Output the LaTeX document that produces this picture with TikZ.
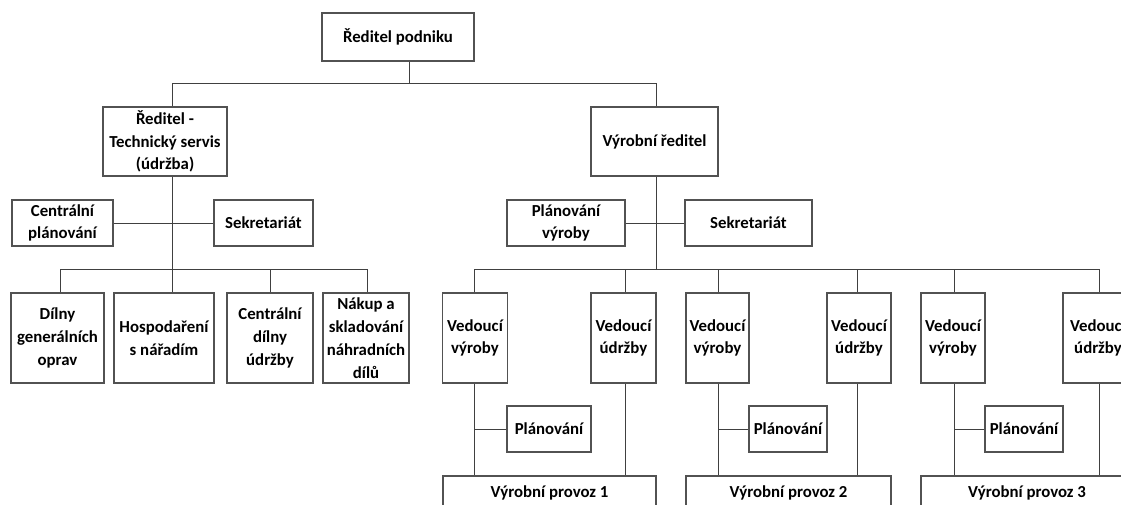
\documentclass[tikz,border=0pt]{standalone}
\usepackage{fontspec}
\setmainfont{Carlito}
\begin{document}
\begin{tikzpicture}[x=1pt,y=-1pt,
  box/.style={draw=black!68, line width=1.1pt, fill=white, inner sep=0pt,
    align=center, font=\bfseries\fontsize{16.8}{22.8}\selectfont},
  link/.style={draw=black!75, line width=1pt}]
\clip (0,0) rectangle (1121,504);
\fill[white] (0,0) rectangle (1121,504);

% --- top management
\node[box, minimum width=152pt, minimum height=48pt] (top) at (398,37) {Ředitel podniku};
\node[box, minimum width=124pt, minimum height=69pt] (ts) at (165,141.5) {Ředitel -\\Technický servis\\(údržba)};
\node[box, minimum width=127pt, minimum height=69pt] (vr) at (654.5,141.5) {Výrobní ředitel};

% --- staff units
\node[box, minimum width=101pt, minimum height=46pt] (cp) at (62.5,223) {Centrální\\plánování};
\node[box, minimum width=99pt, minimum height=46pt] (sk1) at (263.5,223) {Sekretariát};
\node[box, minimum width=118pt, minimum height=46pt] (pv) at (566,223) {Plánování\\výroby};
\node[box, minimum width=127pt, minimum height=46pt] (sk2) at (748.5,223) {Sekretariát};

% --- technical service departments
\node[box, minimum width=93pt, minimum height=90pt] (dgo) at (57.5,338) {Dílny\\generálních\\oprav};
\node[box, minimum width=100pt, minimum height=90pt] (hn) at (164,338) {Hospodaření\\s nářadím};
\node[box, minimum width=86pt, minimum height=90pt] (cdu) at (270,338) {Centrální\\dílny\\údržby};
\node[box, minimum width=86pt, minimum height=90pt] (nsd) at (366,338) {Nákup a\\skladování\\náhradních\\dílů};

% --- production units
\node[box, minimum width=65pt, minimum height=90pt] (vv1) at (475,338) {Vedoucí\\výroby};
\node[box, minimum width=65pt, minimum height=90pt] (vu1) at (623.5,338) {Vedoucí\\údržby};
\node[box, minimum width=84pt, minimum height=46pt] (pl1) at (549,429) {Plánování};
\node[box, minimum width=213pt, minimum height=34pt] (pr1) at (549.5,493) {Výrobní provoz 1};

\node[box, minimum width=63pt, minimum height=90pt] (vv2) at (717.5,338) {Vedoucí\\výroby};
\node[box, minimum width=64pt, minimum height=90pt] (vu2) at (859,338) {Vedoucí\\údržby};
\node[box, minimum width=78pt, minimum height=46pt] (pl2) at (788,429) {Plánování};
\node[box, minimum width=205pt, minimum height=34pt] (pr2) at (788.5,493) {Výrobní provoz 2};

\node[box, minimum width=64pt, minimum height=90pt] (vv3) at (953,338) {Vedoucí\\výroby};
\node[box, minimum width=70pt, minimum height=90pt] (vu3) at (1098,338) {Vedoucí\\údržby};
\node[box, minimum width=78pt, minimum height=46pt] (pl3) at (1024,429) {Plánování};
\node[box, minimum width=212pt, minimum height=34pt] (pr3) at (1027,493) {Výrobní provoz 3};

% --- positions of the connector runs
\coordinate (bus0) at (409,83);
\coordinate (xts) at (172,0);
\coordinate (xvr) at (656,0);
\coordinate (bus1) at (0,269);
\coordinate (xd1) at (60,0);
\coordinate (xd3) at (270,0);
\coordinate (xd4) at (367,0);
\coordinate (xa1) at (474,0);
\coordinate (xb1) at (625,0);
\coordinate (xa2) at (718,0);
\coordinate (xb2) at (857,0);
\coordinate (xa3) at (954,0);
\coordinate (xb3) at (1099,0);

% --- connectors
\draw[link] (top.south -| bus0) -- (bus0);
\draw[link] (ts.north -| xts) -- (xts |- bus0) -- (xvr |- bus0) -- (vr.north -| xvr);

\draw[link] (ts.south -| xts) -- (hn.north -| xts);
\draw[link] (cp.east) -- (sk1.west);
\draw[link] (dgo.north -| xd1) -- (xd1 |- bus1) -- (xd4 |- bus1) -- (nsd.north -| xd4);
\draw[link] (cdu.north -| xd3) -- (xd3 |- bus1);

\draw[link] (vr.south -| xvr) -- (xvr |- bus1);
\draw[link] (pv.east) -- (sk2.west);
\draw[link] (vv1.north -| xa1) -- (xa1 |- bus1) -- (xb3 |- bus1) -- (vu3.north -| xb3);
\draw[link] (vu1.north -| xb1) -- (xb1 |- bus1);
\draw[link] (vv2.north -| xa2) -- (xa2 |- bus1);
\draw[link] (vu2.north -| xb2) -- (xb2 |- bus1);
\draw[link] (vv3.north -| xa3) -- (xa3 |- bus1);

\draw[link] (vv1.south -| xa1) -- (pr1.north -| xa1);
\draw[link] (vu1.south -| xb1) -- (pr1.north -| xb1);
\draw[link] (pl1.west) -- (pl1.west -| xa1);
\draw[link] (vv2.south -| xa2) -- (pr2.north -| xa2);
\draw[link] (vu2.south -| xb2) -- (pr2.north -| xb2);
\draw[link] (pl2.west) -- (pl2.west -| xa2);
\draw[link] (vv3.south -| xa3) -- (pr3.north -| xa3);
\draw[link] (vu3.south -| xb3) -- (pr3.north -| xb3);
\draw[link] (pl3.west) -- (pl3.west -| xa3);
\end{tikzpicture}
\end{document}
